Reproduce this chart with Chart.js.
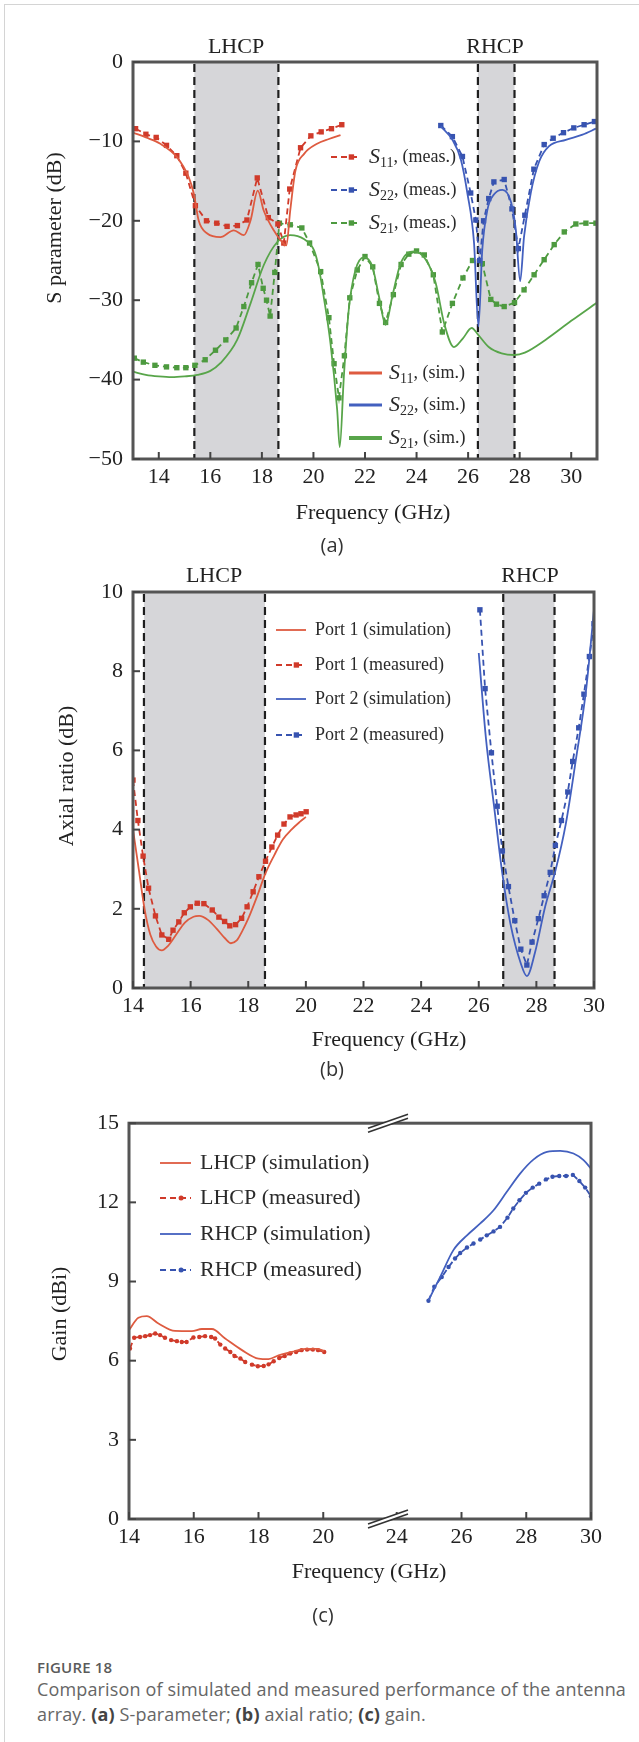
<!DOCTYPE html>
<html>
<head>
<meta charset="utf-8">
<script src="https://cdn.jsdelivr.net/npm/chart.js@4.4.1/dist/chart.umd.min.js"></script>
<style>
  html, body { margin: 0; padding: 0; background: #fff; }
  body { width: 639px; height: 1742px; position: relative; overflow: hidden; }
  .frame { position: absolute; left: 4px; top: 4px; width: 700px; height: 1800px; border: 1px solid #d4d4d4; }
  .box { position: absolute; left: 0; width: 639px; }
  #cap { position: absolute; left: 37px; top: 1657px; font-family: "Open Sans", sans-serif; color: #666; }
  #cap .fig { font-size: 15px; font-weight: 600; color: #5a5a5a; letter-spacing: 0.2px; line-height: 20px; }
  #cap .txt { font-size: 18px; line-height: 24.5px; letter-spacing: 0.15px; }
  #cap b { font-weight: 700; color: #444; }
</style>
</head>
<body>
<div class="frame"></div>
<div class="box" style="top:0;height:560px"><canvas id="ca" width="639" height="560"></canvas></div>
<div class="box" style="top:560px;height:540px"><canvas id="cb" width="639" height="540"></canvas></div>
<div class="box" style="top:1100px;height:540px"><canvas id="cc" width="639" height="540"></canvas></div>
<div id="cap">
  <div class="fig">FIGURE 18</div>
  <div class="txt">Comparison of simulated and measured performance of the antenna<br>array. <b>(a)</b> S-parameter; <b>(b)</b> axial ratio; <b>(c)</b> gain.</div>
</div>
<script>
// ---- (a) S parameters ----
const aTicksX = [14, 16, 18, 20, 22, 24, 26, 28, 30];
const aTicksY = [-50, -40, -30, -20, -10, 0];
const aBands = [[15.38, 18.64], [26.38, 27.8]];

const s11SimF = [13, 13.5, 14.06, 14.71, 15.16, 15.36, 15.55, 15.88, 16.39, 16.91, 17.3, 17.56, 17.84, 18.07, 18.46, 18.85, 18.95, 19.1, 19.3, 19.63, 20.14, 20.6, 21.05];
const s11SimV = [-8.9, -9.5, -10.3, -12, -14.5, -16.6, -20, -21.6, -22.05, -21.2, -21.8, -19.95, -16.2, -18.7, -21.2, -22.9, -23.1, -18.7, -13.7, -11.6, -10.3, -9.7, -9.2];
const s11MeasF = [13.1, 13.5, 13.9, 14.3, 14.7, 15.05, 15.42, 15.85, 16.25, 16.65, 17.05, 17.42, 17.82, 18.25, 18.62, 18.85, 19.08, 19.5, 19.9, 20.3, 20.7, 21.1];
const s11MeasV = [-8.4, -9.1, -9.5, -10.5, -11.8, -14.0, -18.1, -20.0, -20.3, -20.7, -20.6, -19.9, -14.6, -19.6, -20.4, -22.8, -16.0, -10.8, -9.3, -8.8, -8.4, -7.9];

const s22SimF = [24.94, 25.39, 25.72, 25.97, 26.23, 26.4, 26.55, 26.75, 27.0, 27.33, 27.66, 27.85, 28.02, 28.17, 28.43, 28.76, 29.14, 29.79, 30.44, 30.96];
const s22SimV = [-8.1, -9.8, -12.3, -16.5, -22.8, -33.3, -23.6, -18.6, -16.7, -16.1, -17.6, -21.1, -27.6, -22, -16.5, -12.5, -10.6, -9.8, -9.15, -8.4];
const s22MeasF = [24.94, 25.39, 25.78, 26.1, 26.3, 26.45, 26.6, 26.8, 27.0, 27.4, 27.7, 27.95, 28.2, 28.55, 28.95, 29.3, 29.7, 30.1, 30.5, 30.9];
const s22MeasV = [-8.0, -9.4, -11.9, -16.5, -19.9, -25, -20, -17.2, -15.1, -14.8, -18.5, -23.5, -19.3, -13.5, -10.4, -9.6, -8.9, -8.3, -7.9, -7.5];

const s21SimF = [13, 13.5, 14, 14.5, 15, 15.5, 16, 16.4, 17.04, 17.56, 18.07, 18.59, 19.1, 19.63, 20.02, 20.2, 20.4, 20.66, 20.92, 21.02, 21.18, 21.37, 21.63, 21.96, 22.28, 22.54, 22.8, 23.06, 23.39, 23.9, 24.36, 24.74, 25.07, 25.45, 25.8, 26.14, 26.4, 26.8, 27.3, 27.8, 28.2, 29, 30, 31];
const s21SimV = [-39, -39.4, -39.6, -39.7, -39.6, -39.4, -38.9, -37.9, -35, -30.4, -25.6, -22.7, -21.8, -22.3, -23.7, -25.8, -29.6, -35.4, -43.8, -48.5, -39.6, -31.2, -26.2, -24.6, -25.7, -29.5, -33.1, -29.5, -25.3, -23.85, -24.9, -27.8, -32.9, -35.9, -34.8, -33.5, -34.4, -35.9, -36.7, -36.9, -36.6, -35, -32.6, -30.3];
const s21MeasF = [13.05, 13.4, 13.85, 14.3, 14.7, 15.05, 15.4, 15.8, 16.2, 16.6, 17.0, 17.3, 17.6, 17.85, 18.05, 18.18, 18.32, 18.5, 18.68, 19.1, 19.55, 19.85, 20.28, 20.6, 20.8, 20.99, 21.2, 21.41, 21.7, 22.0, 22.3, 22.56, 22.8, 23.1, 23.4, 23.7, 24.0, 24.3, 24.65, 25.0, 25.39, 25.8, 26.17, 26.55, 26.88, 27.1, 27.4, 27.8, 28.17, 28.56, 28.95, 29.34, 29.73, 30.18, 30.57, 30.96];
const s21MeasV = [-37.3, -37.8, -38.2, -38.4, -38.5, -38.5, -38.2, -37.5, -36.3, -35.0, -33.5, -30.8, -27.8, -25.5, -28.5, -30.0, -32.0, -26.5, -20.3, -20.5, -20.9, -22.8, -26.4, -32.2, -38, -42.3, -37, -29.7, -26.2, -24.5, -25.8, -30.4, -32.8, -29.3, -25.5, -24.2, -23.8, -24.3, -26.8, -34.0, -30.4, -27.2, -25.0, -25.4, -29.9, -30.5, -30.8, -30.3, -28.7, -26.8, -24.9, -23.0, -21.4, -20.4, -20.3, -20.3];

// ---- (b) axial ratio ----
const bTicksX = [14, 16, 18, 20, 22, 24, 26, 28, 30];
const bTicksY = [0, 2, 4, 6, 8, 10];
const bBands = [[14.38, 18.58], [26.85, 28.63]];

const p1SimF = [14.0, 14.2, 14.4, 14.6, 14.8, 15.0, 15.2, 15.5, 15.8, 16.1, 16.3, 16.6, 16.9, 17.2, 17.4, 17.6, 17.8, 18.0, 18.3, 18.6, 18.9, 19.2, 19.5, 19.8, 20.0];
const p1SimV = [4.0, 3.0, 2.0, 1.35, 1.05, 0.95, 1.05, 1.35, 1.65, 1.8, 1.82, 1.72, 1.5, 1.25, 1.13, 1.2, 1.45, 1.75, 2.3, 2.9, 3.35, 3.75, 4.0, 4.2, 4.32];
const p1MeasF = [14.0, 14.17, 14.35, 14.54, 14.78, 15.0, 15.24, 15.39, 15.59, 15.78, 15.99, 16.23, 16.46, 16.75, 16.98, 17.18, 17.36, 17.56, 17.77, 17.96, 18.17, 18.37, 18.6, 18.82, 19.02, 19.24, 19.45, 19.66, 19.83, 20.01];
const p1MeasV = [5.25, 4.23, 3.33, 2.52, 1.82, 1.34, 1.23, 1.46, 1.67, 1.9, 2.05, 2.14, 2.13, 1.97, 1.79, 1.68, 1.57, 1.6, 1.76, 2.05, 2.43, 2.81, 3.2, 3.56, 3.86, 4.14, 4.32, 4.37, 4.4, 4.45];
const p2SimF = [26.0, 26.25, 26.53, 26.82, 27.1, 27.46, 27.67, 27.95, 28.31, 28.66, 29.02, 29.37, 29.73, 30.0];
const p2SimV = [8.46, 6.3, 4.6, 2.88, 1.62, 0.62, 0.3, 0.89, 2.07, 2.96, 4.14, 5.76, 7.56, 9.55];
const p2MeasF = [26.04, 26.22, 26.44, 26.64, 26.82, 27.03, 27.25, 27.46, 27.67, 27.85, 28.07, 28.27, 28.48, 28.66, 28.87, 29.09, 29.26, 29.47, 29.65, 29.84, 30.0];
const p2MeasV = [9.55, 7.56, 5.94, 4.59, 3.46, 2.56, 1.7, 0.98, 0.58, 1.16, 1.75, 2.33, 2.92, 3.6, 4.23, 4.95, 5.72, 6.57, 7.42, 8.37, 9.2];

// ---- (c) gain, broken x axis (22 GHz removed) ----
const cTicksX = [14, 16, 18, 20, 24, 26, 28, 30];
const cTicksY = [0, 3, 6, 9, 12, 15];
const cBreakShift = 1.73;

const lhcpSimF = [14.0, 14.29, 14.55, 14.91, 15.42, 15.94, 16.25, 16.56, 16.97, 17.49, 18.0, 18.31, 18.62, 19.03, 19.45, 19.8, 20.03];
const lhcpSimV = [7.16, 7.63, 7.69, 7.41, 7.13, 7.12, 7.2, 7.2, 6.84, 6.4, 6.08, 6.06, 6.2, 6.33, 6.45, 6.45, 6.37];
const lhcpMeasF = [14.03, 14.16, 14.34, 14.5, 14.65, 14.81, 14.96, 15.11, 15.3, 15.48, 15.63, 15.78, 15.99, 16.17, 16.35, 16.54, 16.66, 16.82, 16.97, 17.13, 17.26, 17.44, 17.59, 17.8, 17.98, 18.16, 18.31, 18.47, 18.64, 18.81, 18.98, 19.16, 19.33, 19.5, 19.68, 19.84, 20.03];
const lhcpMeasV = [6.46, 6.87, 6.9, 6.93, 6.97, 7.03, 6.97, 6.87, 6.78, 6.74, 6.71, 6.71, 6.88, 6.9, 6.93, 6.9, 6.84, 6.61, 6.46, 6.33, 6.18, 6.08, 5.95, 5.85, 5.79, 5.8, 5.86, 5.98, 6.1, 6.18, 6.27, 6.33, 6.4, 6.42, 6.42, 6.4, 6.33];
const rhcpSimF = [24.98, 25.34, 25.75, 26.17, 26.58, 26.99, 27.4, 27.81, 28.22, 28.64, 29.05, 29.46, 29.77, 30.0];
const rhcpSimV = [8.29, 9.17, 10.19, 10.75, 11.2, 11.7, 12.4, 13.09, 13.62, 13.91, 13.95, 13.85, 13.6, 13.28];
const rhcpMeasF = [24.98, 25.16, 25.39, 25.6, 25.8, 25.96, 26.17, 26.37, 26.58, 26.78, 26.99, 27.19, 27.42, 27.6, 27.79, 27.99, 28.2, 28.4, 28.61, 28.81, 29.02, 29.23, 29.44, 29.64, 29.82, 30.0];
const rhcpMeasV = [8.27, 8.8, 9.17, 9.55, 9.87, 10.08, 10.29, 10.44, 10.59, 10.75, 10.9, 11.07, 11.42, 11.77, 12.08, 12.36, 12.56, 12.71, 12.87, 12.97, 13.0, 13.0, 13.04, 12.81, 12.56, 12.23];

const RED = '#de5b40', RED_M = '#d03a2a';
const BLUE = '#4360bf', BLUE_M = '#3753b0';
const GREEN = '#58a54a', GREEN_M = '#4d9a3f';
const SERIF = '"Liberation Serif", "Times New Roman", serif';

Chart.defaults.font.family = SERIF;
Chart.defaults.font.size = 22;
Chart.defaults.color = '#222';

function pts(fs, vs, map) {
  return fs.map((f, i) => ({ x: map ? map(f) : f, y: vs[i] }));
}
function toAxisC(f) { return f > 21.5 ? f - cBreakShift : f; }
function fromAxisC(v) { return Math.round(v > 21.5 ? v + cBreakShift : v); }

function simDs(fs, vs, color, map) {
  return { data: pts(fs, vs, map), borderColor: color, borderWidth: 1.8, pointRadius: 0,
           cubicInterpolationMode: 'monotone', fill: false };
}
function measDs(fs, vs, color, style, r, map) {
  return { data: pts(fs, vs, map), borderColor: color, backgroundColor: color, borderWidth: 1.8,
           borderDash: [6, 4], pointStyle: style, pointRadius: r, pointBorderWidth: 0,
           pointBackgroundColor: color, fill: false, tension: 0 };
}

function drawRich(ctx, x, y, segs) {
  segs.forEach(s => {
    ctx.font = s.font;
    ctx.fillText(s.t, x, y + (s.dy || 0));
    x += ctx.measureText(s.t).width;
  });
}

function decorPlugin(d) {
  return {
    id: 'decor',
    beforeDatasetsDraw(chart) {
      const { ctx, chartArea: a, scales } = chart;
      ctx.save();
      (d.bands || []).forEach(([f0, f1]) => {
        const x0 = scales.x.getPixelForValue(f0), x1 = scales.x.getPixelForValue(f1);
        ctx.fillStyle = '#d6d6d9';
        ctx.fillRect(x0, a.top, x1 - x0, a.bottom - a.top);
        ctx.strokeStyle = '#1e1e1e';
        ctx.lineWidth = 2.2;
        ctx.setLineDash([8, 5]);
        [x0, x1].forEach(x => {
          ctx.beginPath(); ctx.moveTo(x, a.top + 2); ctx.lineTo(x, a.bottom); ctx.stroke();
        });
      });
      ctx.restore();
    },
    afterDraw(chart) {
      const { ctx, chartArea: a, scales } = chart;
      ctx.save();
      // frame
      ctx.strokeStyle = '#555';
      ctx.lineWidth = 3;
      ctx.strokeRect(a.left, a.top, a.right - a.left, a.bottom - a.top);
      // inward ticks
      ctx.lineWidth = 2;
      ctx.strokeStyle = '#444';
      scales.x.ticks.forEach(t => {
        const x = scales.x.getPixelForValue(t.value);
        ctx.beginPath(); ctx.moveTo(x, a.bottom); ctx.lineTo(x, a.bottom - 7); ctx.stroke();
      });
      scales.y.ticks.forEach(t => {
        const y = scales.y.getPixelForValue(t.value);
        ctx.beginPath(); ctx.moveTo(a.left, y); ctx.lineTo(a.left + 7, y); ctx.stroke();
      });
      // broken-axis marks
      (d.breaks || []).forEach(f => {
        const cx = scales.x.getPixelForValue(f);
        [a.top, a.bottom].forEach(cy => {
          ctx.fillStyle = '#fff';
          ctx.beginPath();
          ctx.moveTo(cx - 20, cy + 5); ctx.lineTo(cx + 20, cy - 9);
          ctx.lineTo(cx + 20, cy - 5); ctx.lineTo(cx - 20, cy + 9);
          ctx.closePath(); ctx.fill();
          ctx.strokeStyle = '#333'; ctx.lineWidth = 1.6;
          [-2, 2].forEach(o => {
            ctx.beginPath(); ctx.moveTo(cx - 20, cy + 7 + o); ctx.lineTo(cx + 20, cy - 7 + o); ctx.stroke();
          });
        });
      });
      // texts
      ctx.fillStyle = '#222';
      ctx.textBaseline = 'middle';
      (d.texts || []).forEach(t => {
        ctx.save();
        ctx.font = t.font || ('22px ' + SERIF);
        ctx.fillStyle = t.color || '#222';
        ctx.textAlign = 'center';
        ctx.translate(t.x, t.y);
        if (t.rot) ctx.rotate(-Math.PI / 2);
        ctx.fillText(t.t, 0, 0);
        ctx.restore();
      });
      // legend entries
      ctx.textAlign = 'left';
      (d.legend || []).forEach(l => {
        const ds = chart.data.datasets[l.ds];
        ctx.strokeStyle = ds.borderColor;
        ctx.lineWidth = l.lw || ds.borderWidth;
        ctx.setLineDash(ds.borderDash || []);
        ctx.beginPath(); ctx.moveTo(l.x0, l.y); ctx.lineTo(l.x1, l.y); ctx.stroke();
        ctx.setLineDash([]);
        if (ds.pointRadius) {
          const mx = l.x0 + (l.x1 - l.x0) * 0.68;
          ctx.fillStyle = ds.borderColor;
          if (ds.pointStyle === 'rect') {
            const s = ds.pointRadius * Math.SQRT1_2;
            ctx.fillRect(mx - s, l.y - s, 2 * s, 2 * s);
          } else {
            ctx.beginPath(); ctx.arc(mx, l.y, ds.pointRadius + 0.3, 0, Math.PI * 2); ctx.fill();
          }
        }
        ctx.fillStyle = '#2a2a2a';
        drawRich(ctx, l.tx, l.y, l.segs);
      });
      ctx.restore();
    }
  };
}

function makeChart(id, datasets, sx, sy, pad, decor) {
  return new Chart(document.getElementById(id), {
    type: 'line',
    data: { datasets },
    options: {
      responsive: false,
      animation: false,
      events: [],
      layout: { padding: { top: pad.top, right: pad.right, left: 0, bottom: 0 } },
      plugins: { legend: { display: false }, tooltip: { enabled: false } },
      scales: {
        x: {
          type: 'linear', min: sx.min, max: sx.max,
          grid: { display: false, drawTicks: false }, border: { display: false },
          afterBuildTicks: ax => { ax.ticks = sx.ticks.map(v => ({ value: v })); },
          afterFit: ax => { ax.height = pad.xh; },
          ticks: { autoSkip: false, maxRotation: 0, padding: 5, color: '#222',
                   callback: sx.label || (v => String(v)) }
        },
        y: {
          type: 'linear', min: sy.min, max: sy.max,
          grid: { display: false, drawTicks: false }, border: { display: false },
          afterBuildTicks: ax => { ax.ticks = sy.ticks.map(v => ({ value: v })); },
          afterFit: ax => { ax.width = pad.left; },
          ticks: { autoSkip: false, padding: 10, color: '#222',
                   callback: v => String(v).replace('-', '\u2212') }
        }
      }
    },
    plugins: [decorPlugin(decor)]
  });
}

const sub = (s, t, rest, big) => [
  { t: s, font: 'italic 22px ' + SERIF },
  { t: t, font: '14px ' + SERIF, dy: 6 },
  { t: rest, font: (big || 18) + 'px ' + SERIF }
];

// (a)
makeChart('ca', [
  simDs(s11SimF, s11SimV, RED),
  simDs(s22SimF, s22SimV, BLUE),
  simDs(s21SimF, s21SimV, GREEN),
  measDs(s11MeasF, s11MeasV, RED_M, 'rect', 3.8),
  measDs(s22MeasF, s22MeasV, BLUE_M, 'rect', 3.8),
  measDs(s21MeasF, s21MeasV, GREEN_M, 'rect', 3.8)
], { min: 13, max: 31, ticks: aTicksX }, { min: -50, max: 0, ticks: aTicksY },
{ top: 62, right: 42, left: 133, xh: 101 }, {
  bands: aBands,
  texts: [
    { t: 'LHCP', x: 236, y: 47 }, { t: 'RHCP', x: 495, y: 47 },
    { t: 'Frequency (GHz)', x: 373, y: 513 },
    { t: 'S parameter (dB)', x: 55, y: 228, rot: true },
    { t: '(a)', x: 332, y: 546, font: '20px "Open Sans", sans-serif', color: '#333' }
  ],
  legend: [
    { ds: 3, x0: 331, x1: 361, y: 157, tx: 369, segs: sub('S', '11', ', (meas.)') },
    { ds: 4, x0: 331, x1: 361, y: 190, tx: 369, segs: sub('S', '22', ', (meas.)') },
    { ds: 5, x0: 331, x1: 361, y: 223, tx: 369, segs: sub('S', '21', ', (meas.)') },
    { ds: 0, x0: 349, x1: 382, y: 373, tx: 389, lw: 3, segs: sub('S', '11', ', (sim.)') },
    { ds: 1, x0: 349, x1: 382, y: 405, tx: 389, lw: 3, segs: sub('S', '22', ', (sim.)') },
    { ds: 2, x0: 349, x1: 382, y: 438, tx: 389, lw: 4, segs: sub('S', '21', ', (sim.)') }
  ]
});

// (b)
makeChart('cb', [
  simDs(p1SimF, p1SimV, RED),
  measDs(p1MeasF, p1MeasV, RED_M, 'rect', 3.8),
  simDs(p2SimF, p2SimV, BLUE),
  measDs(p2MeasF, p2MeasV, BLUE_M, 'rect', 3.8)
], { min: 14, max: 30, ticks: bTicksX }, { min: 0, max: 10, ticks: bTicksY },
{ top: 32, right: 45, left: 133, xh: 112 }, {
  bands: bBands,
  texts: [
    { t: 'LHCP', x: 214, y: 16 }, { t: 'RHCP', x: 530, y: 16 },
    { t: 'Frequency (GHz)', x: 389, y: 480 },
    { t: 'Axial ratio (dB)', x: 67, y: 216, rot: true },
    { t: '(b)', x: 332, y: 510, font: '20px "Open Sans", sans-serif', color: '#333' }
  ],
  legend: [
    { ds: 0, x0: 276, x1: 306, y: 70, tx: 315, segs: [{ t: 'Port 1 (simulation)', font: '18px ' + SERIF }] },
    { ds: 1, x0: 276, x1: 306, y: 105, tx: 315, segs: [{ t: 'Port 1 (measured)', font: '18px ' + SERIF }] },
    { ds: 2, x0: 276, x1: 306, y: 139, tx: 315, segs: [{ t: 'Port 2 (simulation)', font: '18px ' + SERIF }] },
    { ds: 3, x0: 276, x1: 306, y: 175, tx: 315, segs: [{ t: 'Port 2 (measured)', font: '18px ' + SERIF }] }
  ]
});

// (c)
makeChart('cc', [
  simDs(lhcpSimF, lhcpSimV, RED, toAxisC),
  measDs(lhcpMeasF, lhcpMeasV, RED_M, 'circle', 2.2, toAxisC),
  simDs(rhcpSimF, rhcpSimV, BLUE, toAxisC),
  measDs(rhcpMeasF, rhcpMeasV, BLUE_M, 'circle', 2.2, toAxisC)
], { min: 14, max: toAxisC(30), ticks: cTicksX.map(toAxisC), label: v => String(fromAxisC(v)) },
{ min: 0, max: 15, ticks: cTicksY },
{ top: 23, right: 48, left: 129, xh: 121 }, {
  breaks: [22],
  texts: [
    { t: 'Frequency (GHz)', x: 369, y: 472 },
    { t: 'Gain (dBi)', x: 60, y: 214, rot: true },
    { t: '(c)', x: 323, y: 516, font: '20px "Open Sans", sans-serif', color: '#333' }
  ],
  legend: [
    { ds: 0, x0: 160, x1: 191, y: 63, tx: 200, segs: [{ t: 'LHCP (simulation)', font: '22px ' + SERIF }] },
    { ds: 1, x0: 160, x1: 191, y: 98, tx: 200, segs: [{ t: 'LHCP (measured)', font: '22px ' + SERIF }] },
    { ds: 2, x0: 160, x1: 191, y: 134, tx: 200, segs: [{ t: 'RHCP (simulation)', font: '22px ' + SERIF }] },
    { ds: 3, x0: 160, x1: 191, y: 170, tx: 200, segs: [{ t: 'RHCP (measured)', font: '22px ' + SERIF }] }
  ]
});
</script>
</body>
</html>
